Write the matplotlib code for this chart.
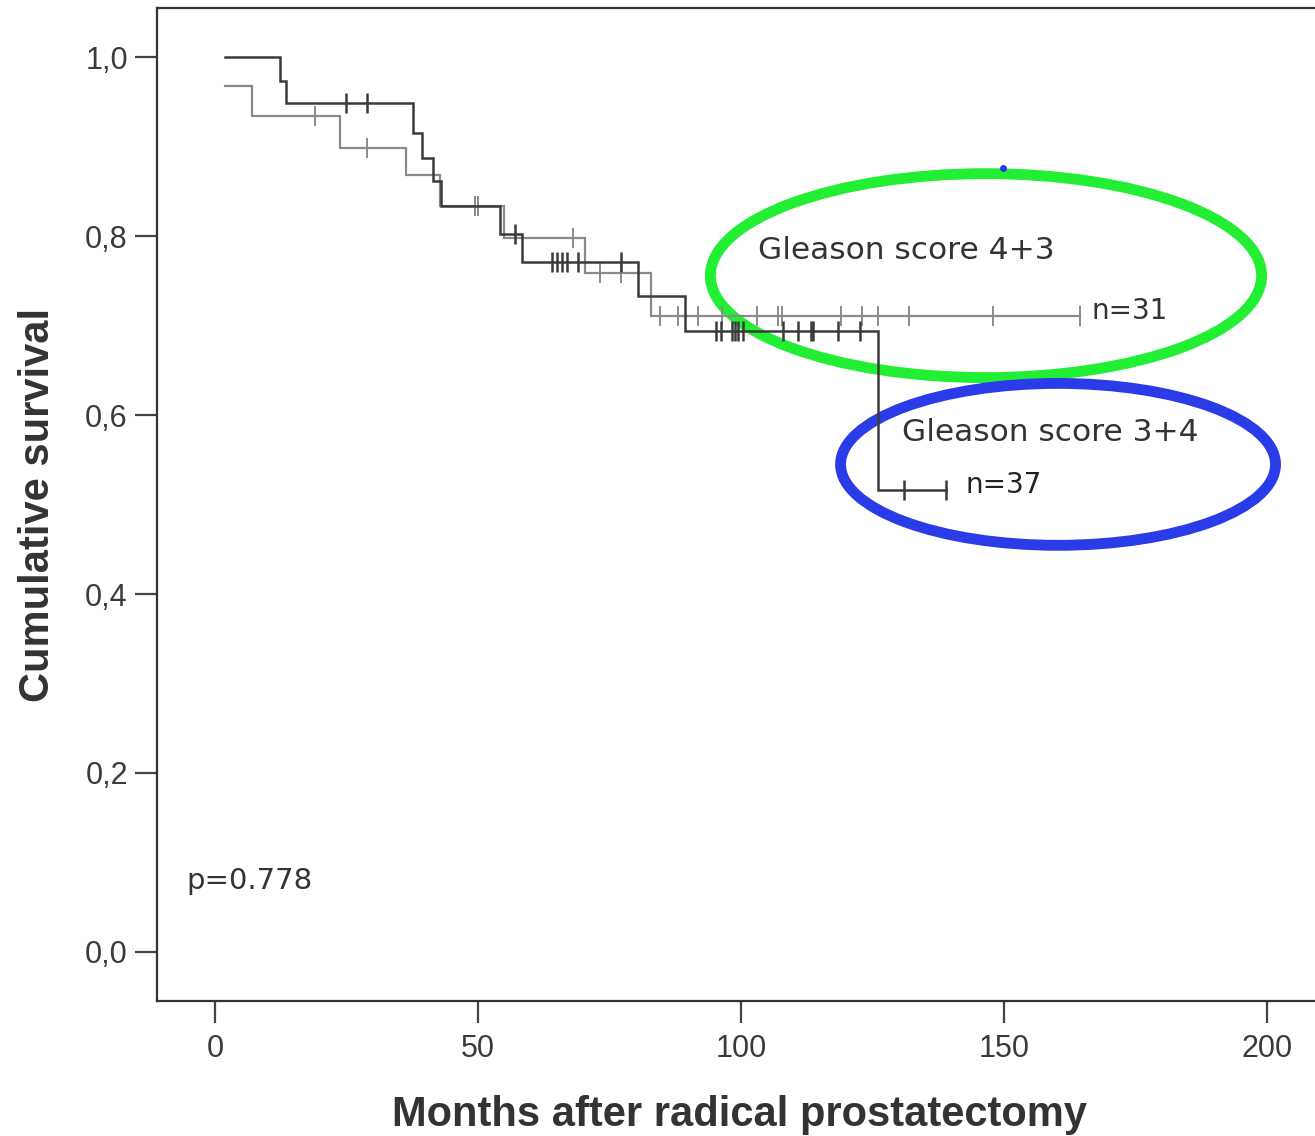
import matplotlib
matplotlib.use("Agg")
import matplotlib.pyplot as plt
from matplotlib.patches import Ellipse
import numpy as np

# ---- Kaplan-Meier data (months, cumulative survival) ----
# Gleason score 3+4 (n=37)
gs34_start = 2.0
gs34_start_surv = 1.0
gs34_event_t = [12.4, 13.5, 37.6, 39.4, 41.4, 43.0, 54.2, 58.3, 80.4, 89.3, 126.0]
gs34_event_s = [0.974, 0.949, 0.916, 0.888, 0.862, 0.834, 0.803, 0.771, 0.733, 0.694, 0.516]
gs34_censor_t = [25.0, 28.9, 57.0, 64.0, 65.0, 66.0, 67.0, 69.0, 77.2, 95.2, 96.2,
                 98.3, 98.9, 99.5, 100.4, 108.0, 110.8, 113.4, 113.8, 118.4, 122.6,
                 131.0, 139.0]

# Gleason score 4+3 (n=31)
gs43_start = 2.0
gs43_start_surv = 0.968
gs43_event_t = [7.0, 23.8, 36.3, 42.8, 55.0, 70.3, 83.0]
gs43_event_s = [0.935, 0.899, 0.868, 0.834, 0.798, 0.759, 0.711]
gs43_censor_t = [19.0, 28.9, 49.4, 50.0, 68.0, 73.2, 77.2, 84.6, 88.0, 91.8, 96.4,
                 103.0, 107.0, 107.8, 119.0, 123.0, 126.0, 132.0, 148.0, 164.5]

x_ticks = [0, 50, 100, 150, 200]
y_ticks = [0.0, 0.2, 0.4, 0.6, 0.8, 1.0]
y_tick_labels = ["0,0", "0,2", "0,4", "0,6", "0,8", "1,0"]

group_labels = ["Gleason score 4+3", "Gleason score 3+4"]
n_labels = ["n=31", "n=37"]
p_label = "p=0.778"

AXFONT = "Liberation Sans"
TXT = "#333333"

fig = plt.figure(figsize=(13.15, 11.36), dpi=100)
ax = fig.add_axes([0.1194, 0.1188, 0.892, 0.874])
ax.set_xlim(-11, 212)
ax.set_ylim(-0.055, 1.055)


def km_path(start, start_s, ev_t, ev_s, censors):
    t_end = max(censors + ev_t)
    xs = [start] + list(ev_t) + [t_end]
    ys = [start_s] + list(ev_s) + [ev_s[-1]]
    return np.array(xs), np.array(ys)


def surv_at(t, start_s, ev_t, ev_s):
    idx = np.searchsorted(np.array(ev_t), t, side="right")
    levels = np.concatenate([[start_s], ev_s])
    return levels[idx]


curves = [
    (gs43_start, gs43_start_surv, gs43_event_t, gs43_event_s, gs43_censor_t, "#8a8a8a", 1.6, 1.4),
    (gs34_start, gs34_start_surv, gs34_event_t, gs34_event_s, gs34_censor_t, "#3a3a3a", 1.8, 1.8),
]
for start, s0, et, es, ct, col, lw, mew in curves:
    xs, ys = km_path(start, s0, et, es, ct)
    ax.step(xs, ys, where="post", color=col, lw=lw, solid_joinstyle="miter")
    cs = surv_at(np.array(ct), s0, et, es)
    ax.plot(ct, cs, linestyle="none", marker="|", markersize=15, markeredgewidth=mew, color=col)

# group annotations and highlight ellipses
ax.text(103.2, 0.784, group_labels[0], fontsize=22.5, color=TXT, va="center", ha="left")
ax.text(130.6, 0.581, group_labels[1], fontsize=22.5, color=TXT, va="center", ha="left")
ax.text(166.7, 0.716, n_labels[0], fontsize=20, color=TXT, va="center", ha="left")
ax.text(142.8, 0.522, n_labels[1], fontsize=20, color="#222222", va="center", ha="left")
ax.text(-5.5, 0.079, p_label, fontsize=21, color=TXT, va="center", ha="left")

ax.add_patch(Ellipse((146.6, 0.756), 104.8, 0.228, fill=False, edgecolor="#22ee33", lw=7.8))
ax.add_patch(Ellipse((160.3, 0.545), 82.7, 0.181, fill=False, edgecolor="#2a3be8", lw=7.8))
ax.plot([149.8], [0.876], marker="o", markersize=4, color="#2a3be8", linestyle="none")

# axes styling
for side in ["left", "bottom", "top", "right"]:
    ax.spines[side].set_color("#333333")
    ax.spines[side].set_linewidth(1.6)

ax.set_xticks(x_ticks)
ax.set_xticklabels([str(v) for v in x_ticks])
ax.set_yticks(y_ticks)
ax.set_yticklabels(y_tick_labels)
ax.tick_params(axis="both", direction="out", length=16, width=1.6, color="#444444",
               labelcolor="#3a3a3a", labelsize=22)
ax.tick_params(axis="x", pad=8)
ax.tick_params(axis="y", pad=5)
for lab in ax.get_xticklabels() + ax.get_yticklabels():
    lab.set_family(AXFONT)

ax.set_xlabel("Months after radical prostatectomy", fontsize=30, fontweight="bold",
              family=AXFONT, color=TXT)
ax.set_ylabel("Cumulative survival", fontsize=30, fontweight="bold",
              family=AXFONT, color=TXT)
ax.xaxis.set_label_coords(0.497, -0.0947)
ax.yaxis.set_label_coords(-0.0844, 0.5)

fig.savefig("out.png", dpi=100)
